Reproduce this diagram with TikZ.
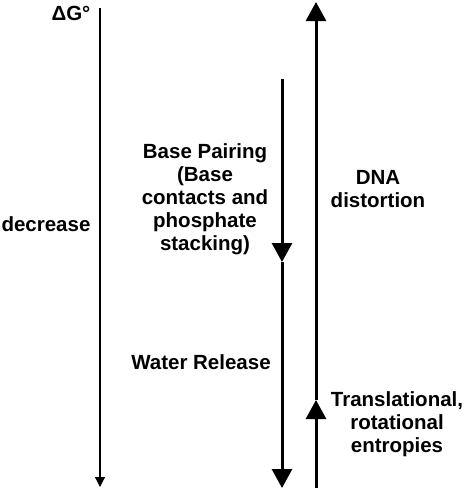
\documentclass[tikz,border=0pt]{standalone}
\usepackage{fontspec}
\setmainfont{Liberation Sans}
\usetikzlibrary{arrows.meta}

\tikzset{
  lbl/.style={font=\bfseries\fontsize{20.5}{23}\selectfont, align=center, inner sep=0pt},
  thickarrow/.style={line width=3pt, -{Triangle[width=20pt,length=19pt]}},
  thinarrow/.style={line width=1.2pt, -{Triangle[width=10pt,length=10pt]}}
}

\begin{document}
\begin{tikzpicture}[x=1pt,y=-1pt]
  \useasboundingbox (0,0) rectangle (465,491);

  % Arrow end points
  \coordinate (gtop) at (100,8);
  \coordinate (gbot) at (100,487);
  \coordinate (ptop) at (282,79);
  \coordinate (pmid) at (282,262);
  \coordinate (pbot) at (282,488);
  \coordinate (dtop) at (316,2);
  \coordinate (dmid) at (316,400);
  \coordinate (dbot) at (316,488);

  % Free energy axis
  \node[lbl] (dg) at (71,13) {ΔG°};
  \draw[thinarrow] (gtop) -- (gbot);
  \node[lbl] (decrease) at (46,224) {decrease};

  % Favourable contributions
  \draw[thickarrow] (ptop) -- (pmid);
  \draw[thickarrow] (pmid) -- (pbot);
  \node[lbl] (pairing) at (205,199) {Base Pairing\\(Base\\contacts and\\phosphate\\stacking)};
  \node[lbl] (water) at (201,362) {Water Release};

  % Unfavourable contributions
  \draw[thickarrow] (dbot) -- (dmid);
  \draw[thickarrow] (dmid) -- (dtop);
  \node[lbl] (distortion) at (378,189) {DNA\\distortion};
  \node[lbl] (entropy) at (397,424) {Translational,\\rotational\\entropies};
\end{tikzpicture}
\end{document}
